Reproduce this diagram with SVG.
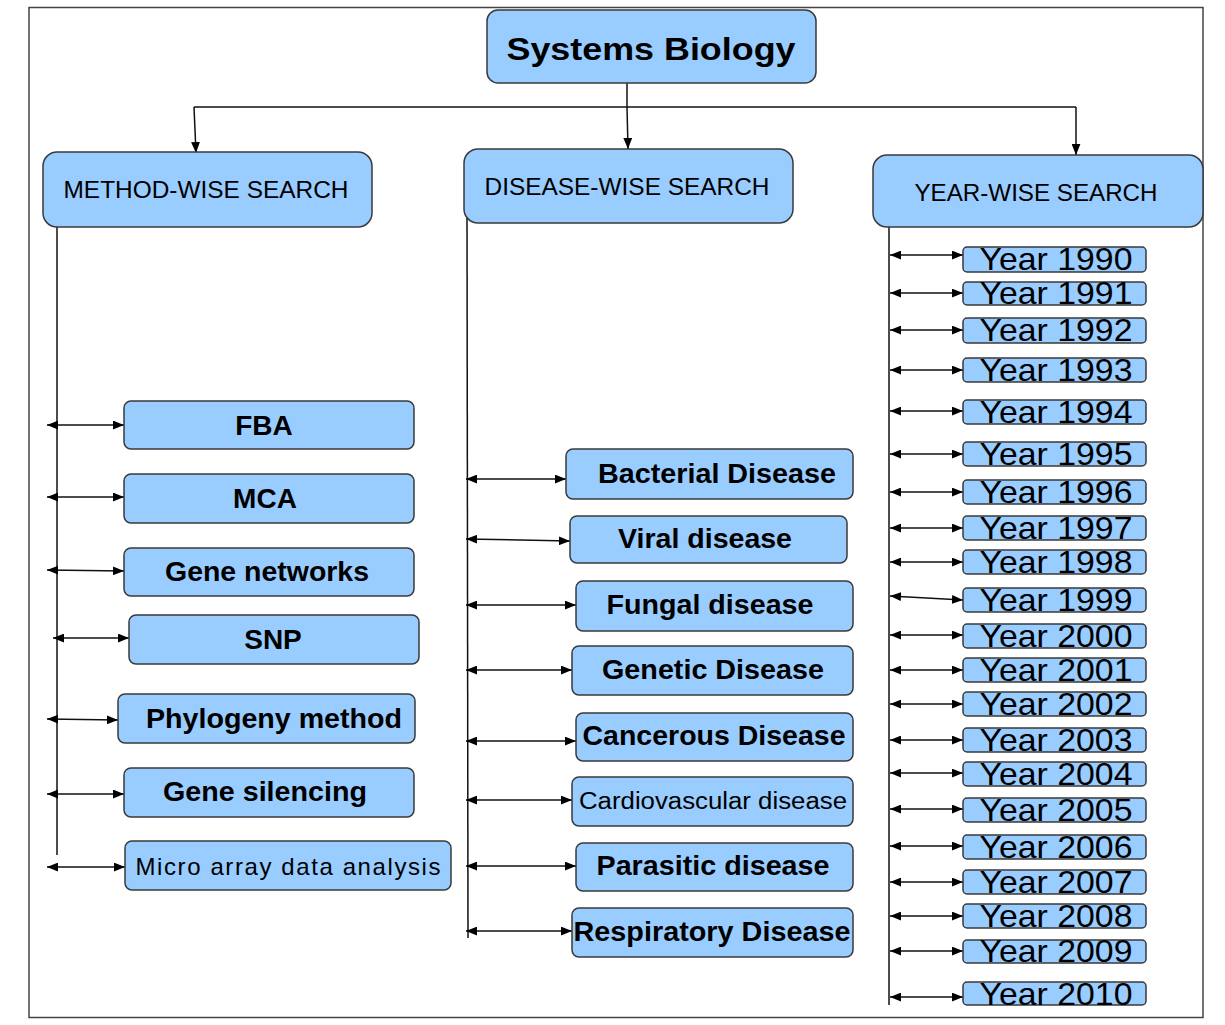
<svg xmlns="http://www.w3.org/2000/svg" width="1225" height="1025" viewBox="0 0 1225 1025">
<defs>
<marker id="ah" viewBox="0 0 10 8" refX="10" refY="4" markerWidth="11" markerHeight="9" markerUnits="userSpaceOnUse" orient="auto-start-reverse">
<path d="M0,0 L10,4 L0,8 z" fill="#000"/>
</marker>
<style>
.box{fill:#99ccff;stroke:#3a3a3a;stroke-width:1.5}
.ln{stroke:#111;stroke-width:1.5;fill:none}
.arr{stroke:#111;stroke-width:1.5;fill:none;marker-start:url(#ah);marker-end:url(#ah)}
.arr1{stroke:#111;stroke-width:1.5;fill:none;marker-end:url(#ah)}
.t{font-family:"Liberation Sans",Arial,sans-serif;fill:#000;text-anchor:middle}
.b28{font-size:28px;font-weight:bold}
.h24{font-size:24px}
.y30{font-size:32px}
</style>
</defs>
<rect x="0" y="0" width="1225" height="1025" fill="#fff"/>
<rect x="29" y="7.5" width="1174" height="1010" fill="none" stroke="#444" stroke-width="1.5"/>

<g id="connectors">
<line class="ln" x1="627" y1="83" x2="627" y2="107"/>
<line class="ln" x1="194" y1="107" x2="1076" y2="107"/>
<line class="arr1" x1="194" y1="107" x2="196" y2="153"/>
<line class="arr1" x1="627" y1="107" x2="628" y2="149"/>
<line class="arr1" x1="1076" y1="107" x2="1076" y2="155"/>
<line class="ln" x1="57" y1="227" x2="57" y2="855"/>
<line class="ln" x1="467" y1="205" x2="468" y2="938"/>
<line class="ln" x1="889" y1="223" x2="889" y2="1005"/>
<line class="arr" x1="47" y1="425" x2="124" y2="425"/>
<line class="arr" x1="47" y1="497" x2="124" y2="497"/>
<line class="arr" x1="47" y1="570" x2="124" y2="571"/>
<line class="arr" x1="53" y1="638" x2="129" y2="638"/>
<line class="arr" x1="47" y1="719" x2="118" y2="720"/>
<line class="arr" x1="47" y1="794" x2="124" y2="794"/>
<line class="arr" x1="47" y1="867" x2="125" y2="867"/>
<line class="arr" x1="466" y1="479" x2="566" y2="479"/>
<line class="arr" x1="466" y1="539" x2="570" y2="541"/>
<line class="arr" x1="466" y1="605" x2="576" y2="605"/>
<line class="arr" x1="466" y1="670" x2="572" y2="670"/>
<line class="arr" x1="466" y1="741" x2="576" y2="741"/>
<line class="arr" x1="466" y1="800" x2="572" y2="800"/>
<line class="arr" x1="466" y1="866" x2="576" y2="866"/>
<line class="arr" x1="466" y1="931" x2="572" y2="931"/>
<line class="arr" x1="890" y1="255" x2="963" y2="255"/>
<line class="arr" x1="890" y1="293" x2="963" y2="293"/>
<line class="arr" x1="890" y1="330" x2="963" y2="330"/>
<line class="arr" x1="890" y1="370" x2="963" y2="370"/>
<line class="arr" x1="890" y1="411" x2="963" y2="411"/>
<line class="arr" x1="890" y1="454" x2="963" y2="454"/>
<line class="arr" x1="890" y1="492" x2="963" y2="492"/>
<line class="arr" x1="890" y1="528" x2="963" y2="528"/>
<line class="arr" x1="890" y1="562" x2="963" y2="562"/>
<line class="arr" x1="890" y1="596" x2="963" y2="600"/>
<line class="arr" x1="890" y1="635" x2="963" y2="635"/>
<line class="arr" x1="890" y1="670" x2="963" y2="670"/>
<line class="arr" x1="890" y1="704" x2="963" y2="704"/>
<line class="arr" x1="890" y1="740" x2="963" y2="740"/>
<line class="arr" x1="890" y1="773" x2="963" y2="773"/>
<line class="arr" x1="890" y1="809" x2="963" y2="809"/>
<line class="arr" x1="890" y1="846" x2="963" y2="846"/>
<line class="arr" x1="890" y1="882" x2="963" y2="882"/>
<line class="arr" x1="890" y1="916" x2="963" y2="916"/>
<line class="arr" x1="890" y1="951" x2="963" y2="951"/>
<line class="arr" x1="890" y1="997" x2="963" y2="997"/>
</g>

<g id="systems-biology"><rect class="box" x="487" y="10" width="329" height="73" rx="11"/><text class="t" x="651" y="60" font-size="32" font-weight="bold" textLength="289" lengthAdjust="spacingAndGlyphs">Systems Biology</text></g>

<g id="method-wise"><rect class="box" x="43" y="152" width="329" height="75" rx="14"/><text class="t h24" x="206" y="198" textLength="285" lengthAdjust="spacingAndGlyphs">METHOD-WISE SEARCH</text></g>
<g id="disease-wise"><rect class="box" x="464" y="149" width="329" height="74" rx="14"/><text class="t h24" x="627" y="195" textLength="285" lengthAdjust="spacingAndGlyphs">DISEASE-WISE SEARCH</text></g>
<g id="year-wise"><rect class="box" x="873" y="155" width="330" height="72" rx="14"/><text class="t h24" x="1036" y="201" textLength="243" lengthAdjust="spacingAndGlyphs">YEAR-WISE SEARCH</text></g>

<g id="fba"><rect class="box" x="124" y="401" width="290" height="48" rx="7"/><text class="t b28" x="264" y="435">FBA</text></g>
<g id="mca"><rect class="box" x="124" y="474" width="290" height="49" rx="7"/><text class="t b28" x="265" y="508">MCA</text></g>
<g id="gene-networks"><rect class="box" x="124" y="548" width="290" height="48" rx="7"/><text class="t b28" x="267" y="581" textLength="204" lengthAdjust="spacingAndGlyphs">Gene networks</text></g>
<g id="snp"><rect class="box" x="129" y="615" width="290" height="49" rx="7"/><text class="t b28" x="273" y="649">SNP</text></g>
<g id="phylogeny"><rect class="box" x="118" y="694" width="297" height="49" rx="7"/><text class="t b28" x="274" y="728" textLength="256" lengthAdjust="spacingAndGlyphs">Phylogeny method</text></g>
<g id="gene-silencing"><rect class="box" x="124" y="768" width="290" height="49" rx="7"/><text class="t b28" x="265" y="801" textLength="204" lengthAdjust="spacingAndGlyphs">Gene silencing</text></g>
<g id="micro-array"><rect class="box" x="125" y="841" width="326" height="49" rx="7"/><text class="t" x="288" y="875" font-size="24" textLength="305" lengthAdjust="spacing">Micro array data analysis</text></g>

<g id="bacterial"><rect class="box" x="566" y="449" width="287" height="50" rx="7"/><text class="t b28" x="717" y="483" textLength="238" lengthAdjust="spacingAndGlyphs">Bacterial Disease</text></g>
<g id="viral"><rect class="box" x="570" y="516" width="277" height="47" rx="7"/><text class="t b28" x="705" y="548" textLength="174" lengthAdjust="spacingAndGlyphs">Viral disease</text></g>
<g id="fungal"><rect class="box" x="576" y="581" width="277" height="50" rx="7"/><text class="t b28" x="710" y="614" textLength="207" lengthAdjust="spacingAndGlyphs">Fungal disease</text></g>
<g id="genetic"><rect class="box" x="572" y="646" width="281" height="49" rx="7"/><text class="t b28" x="713" y="679" textLength="222" lengthAdjust="spacingAndGlyphs">Genetic Disease</text></g>
<g id="cancerous"><rect class="box" x="576" y="713" width="277" height="48" rx="7"/><text class="t b28" x="714" y="745" textLength="263" lengthAdjust="spacingAndGlyphs">Cancerous Disease</text></g>
<g id="cardiovascular"><rect class="box" x="572" y="777" width="281" height="49" rx="7"/><text class="t" x="713" y="809" font-size="23" textLength="268" lengthAdjust="spacingAndGlyphs">Cardiovascular disease</text></g>
<g id="parasitic"><rect class="box" x="576" y="843" width="277" height="48" rx="7"/><text class="t b28" x="713" y="875" textLength="233" lengthAdjust="spacingAndGlyphs">Parasitic disease</text></g>
<g id="respiratory"><rect class="box" x="572" y="908" width="281" height="49" rx="7"/><text class="t b28" x="712" y="941" textLength="277" lengthAdjust="spacingAndGlyphs">Respiratory Disease</text></g>

<g id="y1990"><rect class="box" x="963" y="247" width="183" height="25" rx="4"/><text class="t y30" x="1056" y="270" textLength="153" lengthAdjust="spacingAndGlyphs">Year 1990</text></g>
<g id="y1991"><rect class="box" x="963" y="282" width="183" height="23" rx="4"/><text class="t y30" x="1056" y="304" textLength="153" lengthAdjust="spacingAndGlyphs">Year 1991</text></g>
<g id="y1992"><rect class="box" x="963" y="318" width="183" height="25" rx="4"/><text class="t y30" x="1056" y="341" textLength="153" lengthAdjust="spacingAndGlyphs">Year 1992</text></g>
<g id="y1993"><rect class="box" x="963" y="358" width="183" height="24" rx="4"/><text class="t y30" x="1056" y="381" textLength="153" lengthAdjust="spacingAndGlyphs">Year 1993</text></g>
<g id="y1994"><rect class="box" x="963" y="400" width="183" height="24" rx="4"/><text class="t y30" x="1056" y="423" textLength="153" lengthAdjust="spacingAndGlyphs">Year 1994</text></g>
<g id="y1995"><rect class="box" x="963" y="442" width="183" height="24" rx="4"/><text class="t y30" x="1056" y="465" textLength="153" lengthAdjust="spacingAndGlyphs">Year 1995</text></g>
<g id="y1996"><rect class="box" x="963" y="480" width="183" height="24" rx="4"/><text class="t y30" x="1056" y="503" textLength="153" lengthAdjust="spacingAndGlyphs">Year 1996</text></g>
<g id="y1997"><rect class="box" x="963" y="516" width="183" height="24" rx="4"/><text class="t y30" x="1056" y="539" textLength="153" lengthAdjust="spacingAndGlyphs">Year 1997</text></g>
<g id="y1998"><rect class="box" x="963" y="550" width="183" height="24" rx="4"/><text class="t y30" x="1056" y="573" textLength="153" lengthAdjust="spacingAndGlyphs">Year 1998</text></g>
<g id="y1999"><rect class="box" x="963" y="588" width="183" height="24" rx="4"/><text class="t y30" x="1056" y="611" textLength="153" lengthAdjust="spacingAndGlyphs">Year 1999</text></g>
<g id="y2000"><rect class="box" x="963" y="624" width="183" height="24" rx="4"/><text class="t y30" x="1056" y="647" textLength="153" lengthAdjust="spacingAndGlyphs">Year 2000</text></g>
<g id="y2001"><rect class="box" x="963" y="658" width="183" height="24" rx="4"/><text class="t y30" x="1056" y="681" textLength="153" lengthAdjust="spacingAndGlyphs">Year 2001</text></g>
<g id="y2002"><rect class="box" x="963" y="692" width="183" height="24" rx="4"/><text class="t y30" x="1056" y="715" textLength="153" lengthAdjust="spacingAndGlyphs">Year 2002</text></g>
<g id="y2003"><rect class="box" x="963" y="728" width="183" height="24" rx="4"/><text class="t y30" x="1056" y="751" textLength="153" lengthAdjust="spacingAndGlyphs">Year 2003</text></g>
<g id="y2004"><rect class="box" x="963" y="762" width="183" height="24" rx="4"/><text class="t y30" x="1056" y="785" textLength="153" lengthAdjust="spacingAndGlyphs">Year 2004</text></g>
<g id="y2005"><rect class="box" x="963" y="798" width="183" height="24" rx="4"/><text class="t y30" x="1056" y="821" textLength="153" lengthAdjust="spacingAndGlyphs">Year 2005</text></g>
<g id="y2006"><rect class="box" x="963" y="835" width="183" height="24" rx="4"/><text class="t y30" x="1056" y="858" textLength="153" lengthAdjust="spacingAndGlyphs">Year 2006</text></g>
<g id="y2007"><rect class="box" x="963" y="870" width="183" height="24" rx="4"/><text class="t y30" x="1056" y="893" textLength="153" lengthAdjust="spacingAndGlyphs">Year 2007</text></g>
<g id="y2008"><rect class="box" x="963" y="904" width="183" height="24" rx="4"/><text class="t y30" x="1056" y="927" textLength="153" lengthAdjust="spacingAndGlyphs">Year 2008</text></g>
<g id="y2009"><rect class="box" x="963" y="940" width="183" height="23" rx="4"/><text class="t y30" x="1056" y="962" textLength="153" lengthAdjust="spacingAndGlyphs">Year 2009</text></g>
<g id="y2010"><rect class="box" x="963" y="982" width="183" height="23" rx="4"/><text class="t y30" x="1056" y="1005" textLength="153" lengthAdjust="spacingAndGlyphs">Year 2010</text></g>
</svg>
